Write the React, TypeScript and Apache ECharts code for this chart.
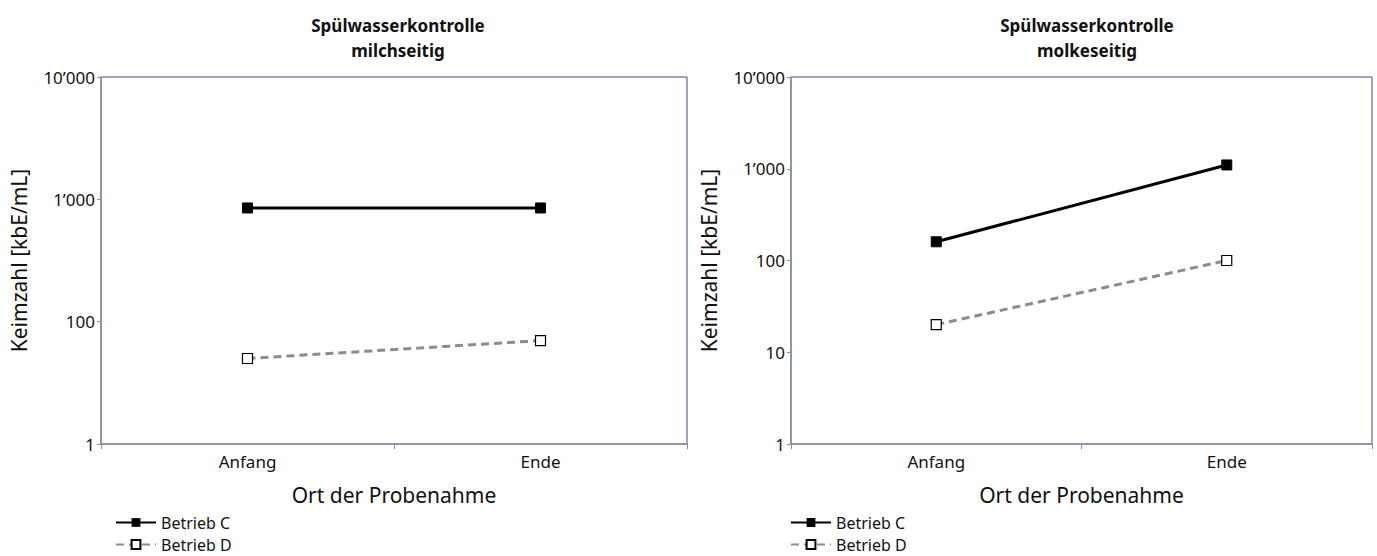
import React, { useEffect, useRef } from "react";
import * as echarts from "echarts";

const categories = ["Anfang", "Ende"];
const seriesNames = ["Betrieb C", "Betrieb D"];
const milchC = [850, 850];
const milchD = [50, 70];
const molkeC = [160, 1100];
const molkeD = [20, 100];
const titles = ["Spülwasserkontrolle\nmilchseitig", "Spülwasserkontrolle\nmolkeseitig"];
const yName = "Keimzahl [kbE/mL]";
const xName = "Ort der Probenahme";

const FONT = "'Noto Sans', 'Open Sans', sans-serif";

const fmt = (v: number) => {
  const s = String(Math.round(v));
  return s.replace(/\B(?=(\d{3})+(?!\d))/g, "\u2019");
};

export default function App() {
  const ref = useRef<HTMLDivElement>(null);
  useEffect(() => {
    if (!ref.current) return;
    const chart = echarts.init(ref.current, undefined, { renderer: "svg" });
    const grids = [
      { left: 101, width: 586, top: 77, height: 367 },
      { left: 791, width: 581, top: 77, height: 367 },
    ];
    const xAxis = grids.map((_, i) => ({
      type: "category",
      gridIndex: i,
      data: categories,
      boundaryGap: true,
      name: xName,
      nameLocation: "middle",
      nameGap: 40,
      nameTextStyle: { fontSize: 21, color: "#111", fontFamily: FONT },
      axisLine: { lineStyle: { color: "#8a8f9e", width: 1.5 } },
      axisTick: { show: true, length: 5, inside: false, lineStyle: { color: "#8a8f9e" } },
      axisLabel: { fontSize: 17, color: "#111", fontFamily: FONT, margin: 9 },
      splitLine: { show: false },
    }));
    const yCommon = {
      logBase: 10,
      max: 10000,
      name: yName,
      nameLocation: "middle",
      nameGap: 72,
      nameTextStyle: { fontSize: 21, color: "#111", fontFamily: FONT },
      axisLine: { show: true, lineStyle: { color: "#8a8f9e", width: 1.5 } },
      axisTick: { show: true, length: 4, lineStyle: { color: "#8a8f9e" } },
      splitLine: { show: false },
    };
    const yAxis = [
      {
        ...yCommon,
        type: "log",
        gridIndex: 0,
        min: 10,
        axisLabel: {
          fontSize: 17,
          color: "#111",
          fontFamily: FONT,
          margin: 6,
          formatter: (v: number) => (v === 10 ? "1" : fmt(v)),
        },
      },
      {
        ...yCommon,
        type: "log",
        gridIndex: 1,
        min: 1,
        axisLabel: {
          fontSize: 17,
          color: "#111",
          fontFamily: FONT,
          margin: 6,
          formatter: (v: number) => fmt(v),
        },
      },
    ];
    const mkC = (data: number[], i: number) => ({
      name: seriesNames[0],
      type: "line",
      xAxisIndex: i,
      yAxisIndex: i,
      data,
      symbol: "rect",
      symbolSize: 10,
      itemStyle: { color: "#000", borderColor: "#000" },
      lineStyle: { color: "#000", width: 3 },
    });
    const mkD = (data: number[], i: number) => ({
      name: seriesNames[1],
      type: "line",
      xAxisIndex: i,
      yAxisIndex: i,
      data,
      symbol: "rect",
      symbolSize: 10,
      itemStyle: { color: "#fff", borderColor: "#000", borderWidth: 1.2 },
      lineStyle: { color: "#8c8c8c", width: 3, type: [8, 5] },
    });
    const legends: any[] = [];
    [0, 1].forEach((p) => {
      seriesNames.forEach((n, k) => {
        legends.push({
          orient: "vertical",
          left: p === 0 ? 115 : 790,
          top: k === 0 ? 514 : 536,
          padding: 0,
          itemGap: 4,
          itemWidth: 40,
          itemHeight: 11,
          data: [n],
          textStyle: { fontSize: 16, lineHeight: 17, color: "#111", fontFamily: FONT },
        });
      });
    });
    chart.setOption({
      animation: false,
      backgroundColor: "#fff",
      title: titles.map((t, i) => ({
        text: t,
        left: i === 0 ? 393 : 1082,
        top: 8,
        textAlign: "center",
        textStyle: {
          fontSize: 17,
          fontWeight: "bold",
          color: "#111",
          fontFamily: FONT,
          lineHeight: 25,
        },
      })),
      grid: grids.map((g) => ({
        ...g,
        show: true,
        borderColor: "#3d4f86",
        borderWidth: 1,
        backgroundColor: "transparent",
      })),
      legend: legends,
      xAxis,
      yAxis,
      series: [mkC(milchC, 0), mkD(milchD, 0), mkC(molkeC, 1), mkD(molkeD, 1)],
    });
    return () => chart.dispose();
  }, []);
  return (
    <div
      ref={ref}
      style={{ position: "fixed", left: 0, top: 0, width: 1377, height: 556 }}
    />
  );
}
